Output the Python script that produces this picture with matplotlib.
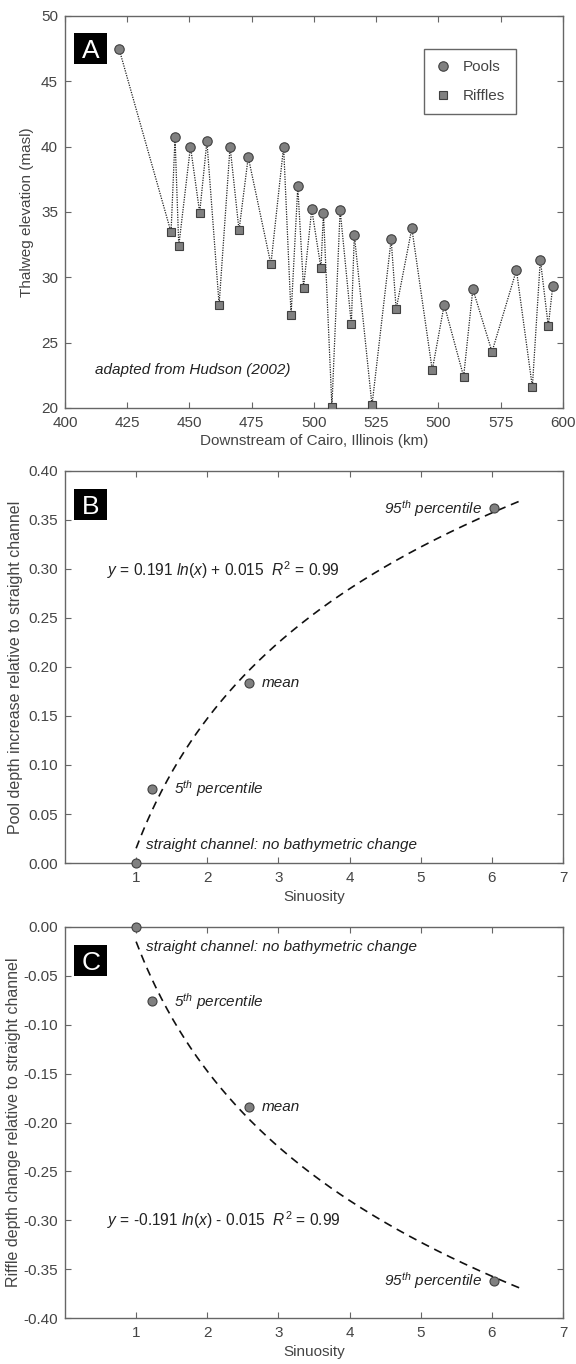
import numpy as np
import matplotlib
matplotlib.use("Agg")
import matplotlib.pyplot as plt
from matplotlib.patches import Rectangle
from matplotlib.ticker import FuncFormatter

plt.rcParams["font.family"] = ["Liberation Sans", "DejaVu Sans"]
plt.rcParams["mathtext.fontset"] = "custom"
plt.rcParams["mathtext.rm"] = "Liberation Sans"
plt.rcParams["mathtext.it"] = "Liberation Sans:italic"
plt.rcParams["axes.unicode_minus"] = False

# Panel A: thalweg profile (km downstream, elevation masl)
pool_km = [421.7, 444.2, 450.4, 457.0, 466.3, 473.6, 487.8, 493.5, 499.1, 503.8,
           510.5, 516.2, 531.0, 539.3, 552.3, 563.8, 581.3, 590.9, 595.9]
pool_elev = [47.5, 40.7, 40.0, 40.4, 40.0, 39.2, 40.0, 36.95, 35.2, 34.95,
             35.15, 33.25, 32.9, 33.75, 27.9, 29.1, 30.55, 31.35, 29.35]
riffle_km = [442.6, 445.7, 454.1, 461.9, 469.9, 482.7, 490.8, 495.8, 502.8, 507.2,
             515.0, 523.3, 533.0, 547.5, 560.1, 571.5, 587.7, 594.1]
riffle_elev = [33.45, 32.4, 34.95, 27.9, 33.6, 31.0, 27.1, 29.2, 30.7, 20.1,
               26.4, 20.2, 27.55, 22.9, 22.4, 24.3, 21.6, 26.25]
a_xticks = [400, 425, 450, 475, 500, 525, 550, 575, 600]
a_xticklabels = ["400", "425", "450", "475", "500", "525", "500", "575", "600"]

# Panels B and C: sinuosity vs depth change
sinuosity = [1.0, 1.22, 2.58, 6.03]
pool_change = [0.0, 0.076, 0.184, 0.362]
riffle_change = [0.0, -0.076, -0.184, -0.362]
point_labels = ["straight channel: no bathymetric change",
                r"5$^{th}$ percentile", "mean", r"95$^{th}$ percentile"]
fit_a, fit_b = 0.191, 0.015

grey = "#808080"
edge = "#404040"
spine = "#666666"
txt = "#444444"
ink = "#222222"
FS = 11

fig = plt.figure(figsize=(5.76, 13.64), dpi=100)
axA = fig.add_axes([0.1128, 0.7009, 0.8646, 0.2874])
axB = fig.add_axes([0.1128, 0.3673, 0.8646, 0.2874])
axC = fig.add_axes([0.1128, 0.0337, 0.8646, 0.2867])


def style(ax):
    for s in ax.spines.values():
        s.set_color(spine)
        s.set_linewidth(1.0)
    ax.tick_params(direction="in", top=True, right=True, length=4, width=0.8,
                   color=spine, labelsize=FS, labelcolor=txt)
    ax.tick_params(axis="x", pad=6)
    ax.tick_params(axis="y", pad=5)


def panel_tag(ax, letter, y_top):
    ax.add_patch(Rectangle((0.019, y_top - 0.079), 0.066, 0.079,
                           transform=ax.transAxes, fc="black", ec="none",
                           zorder=5))
    ax.text(0.052, y_top - 0.0395, letter, transform=ax.transAxes, fontsize=19,
            color="white", ha="center", va="center_baseline", zorder=6)


two_dec = FuncFormatter(lambda v, p: "0.00" if abs(v) < 1e-9 else "%.2f" % v)

# ---- A ----
all_km = pool_km + riffle_km
all_elev = pool_elev + riffle_elev
order = np.argsort(all_km)
axA.plot(np.array(all_km)[order], np.array(all_elev)[order], ls=(0, (1, 1)),
         color="#222222", lw=0.9, zorder=1)
axA.plot(pool_km, pool_elev, "o", ms=6.8, mfc=grey, mec=edge, mew=0.8,
         ls="none", label="Pools", zorder=3)
axA.plot(riffle_km, riffle_elev, "s", ms=5.2, mfc=grey, mec=edge, mew=0.8,
         ls="none", label="Riffles", zorder=3)
axA.set_xlim(400, 600)
axA.set_ylim(20, 50)
axA.set_xticks(a_xticks)
axA.set_xticklabels(a_xticklabels)
axA.set_yticks([20, 25, 30, 35, 40, 45, 50])
style(axA)
axA.set_xlabel("Downstream of Cairo, Illinois (km)", fontsize=FS, color=txt, labelpad=3)
axA.set_ylabel("Thalweg elevation (masl)", fontsize=FS, color=txt, labelpad=5)
leg = axA.legend(loc="upper right", bbox_to_anchor=(0.906, 0.916), fontsize=FS,
                 frameon=True, fancybox=False, edgecolor="#404040",
                 handletextpad=0.8, borderpad=0.75, labelspacing=0.95,
                 handlelength=1.0, borderaxespad=0)
leg.get_frame().set_linewidth(1.0)
for t in leg.get_texts():
    t.set_color(txt)
axA.text(412, 22.9, "adapted from Hudson (2002)", fontsize=FS, style="italic",
         color=ink, va="center")
panel_tag(axA, "A", 0.957)

# ---- B ----
xs = np.linspace(1.0, 6.45, 200)
axB.plot(xs, fit_a * np.log(xs) + fit_b, ls=(0, (5, 3.5)), color="#111111",
         lw=1.2, zorder=1)
axB.plot(sinuosity, pool_change, "o", ms=6.5, mfc=grey, mec=edge, mew=0.8,
         ls="none", clip_on=False, zorder=3)
axB.set_xlim(0, 7)
axB.set_ylim(0, 0.40)
axB.set_xticks([1, 2, 3, 4, 5, 6, 7])
axB.set_yticks(np.arange(0, 0.41, 0.05))
axB.yaxis.set_major_formatter(two_dec)
style(axB)
axB.set_xlabel("Sinuosity", fontsize=FS, color=txt, labelpad=3)
axB.set_ylabel("Pool depth increase relative to straight channel", fontsize=11.5,
               color=txt, labelpad=4)
axB.text(1.14, 0.018, point_labels[0], fontsize=FS, style="italic",
         color=ink, va="center")
axB.text(1.53, 0.076, point_labels[1], fontsize=FS, style="italic",
         color=ink, va="center")
axB.text(2.77, 0.184, point_labels[2], fontsize=FS, style="italic",
         color=ink, va="center")
axB.text(5.86, 0.362, point_labels[3], fontsize=FS, style="italic",
         color=ink, va="center", ha="right")
axB.text(0.59, 0.299,
         r"$\mathit{y}$ = 0.191 $\mathit{ln}$($\mathit{x}$) + 0.015  $\mathit{R}^{2}$ = 0.99",
         fontsize=11.2, color=ink, va="center")
panel_tag(axB, "B", 0.954)

# ---- C ----
axC.plot(xs, -fit_a * np.log(xs) - fit_b, ls=(0, (5, 3.5)), color="#111111",
         lw=1.2, zorder=1)
axC.plot(sinuosity, riffle_change, "o", ms=6.5, mfc=grey, mec=edge, mew=0.8,
         ls="none", clip_on=False, zorder=3)
axC.set_xlim(0, 7)
axC.set_ylim(-0.40, 0)
axC.set_xticks([1, 2, 3, 4, 5, 6, 7])
axC.set_yticks(np.arange(-0.40, 0.001, 0.05))
axC.yaxis.set_major_formatter(two_dec)
style(axC)
axC.set_xlabel("Sinuosity", fontsize=FS, color=txt, labelpad=3)
axC.set_ylabel("Riffle depth change relative to straight channel", fontsize=11.5,
               color=txt, labelpad=2)
axC.text(1.14, -0.02, point_labels[0], fontsize=FS, style="italic",
         color=ink, va="center")
axC.text(1.53, -0.076, point_labels[1], fontsize=FS, style="italic",
         color=ink, va="center")
axC.text(2.77, -0.184, point_labels[2], fontsize=FS, style="italic",
         color=ink, va="center")
axC.text(5.86, -0.362, point_labels[3], fontsize=FS, style="italic",
         color=ink, va="center", ha="right")
axC.text(0.59, -0.30,
         r"$\mathit{y}$ = -0.191 $\mathit{ln}$($\mathit{x}$) - 0.015  $\mathit{R}^{2}$ = 0.99",
         fontsize=11.2, color=ink, va="center")
panel_tag(axC, "C", 0.954)

fig.savefig("out.png", dpi=100)
